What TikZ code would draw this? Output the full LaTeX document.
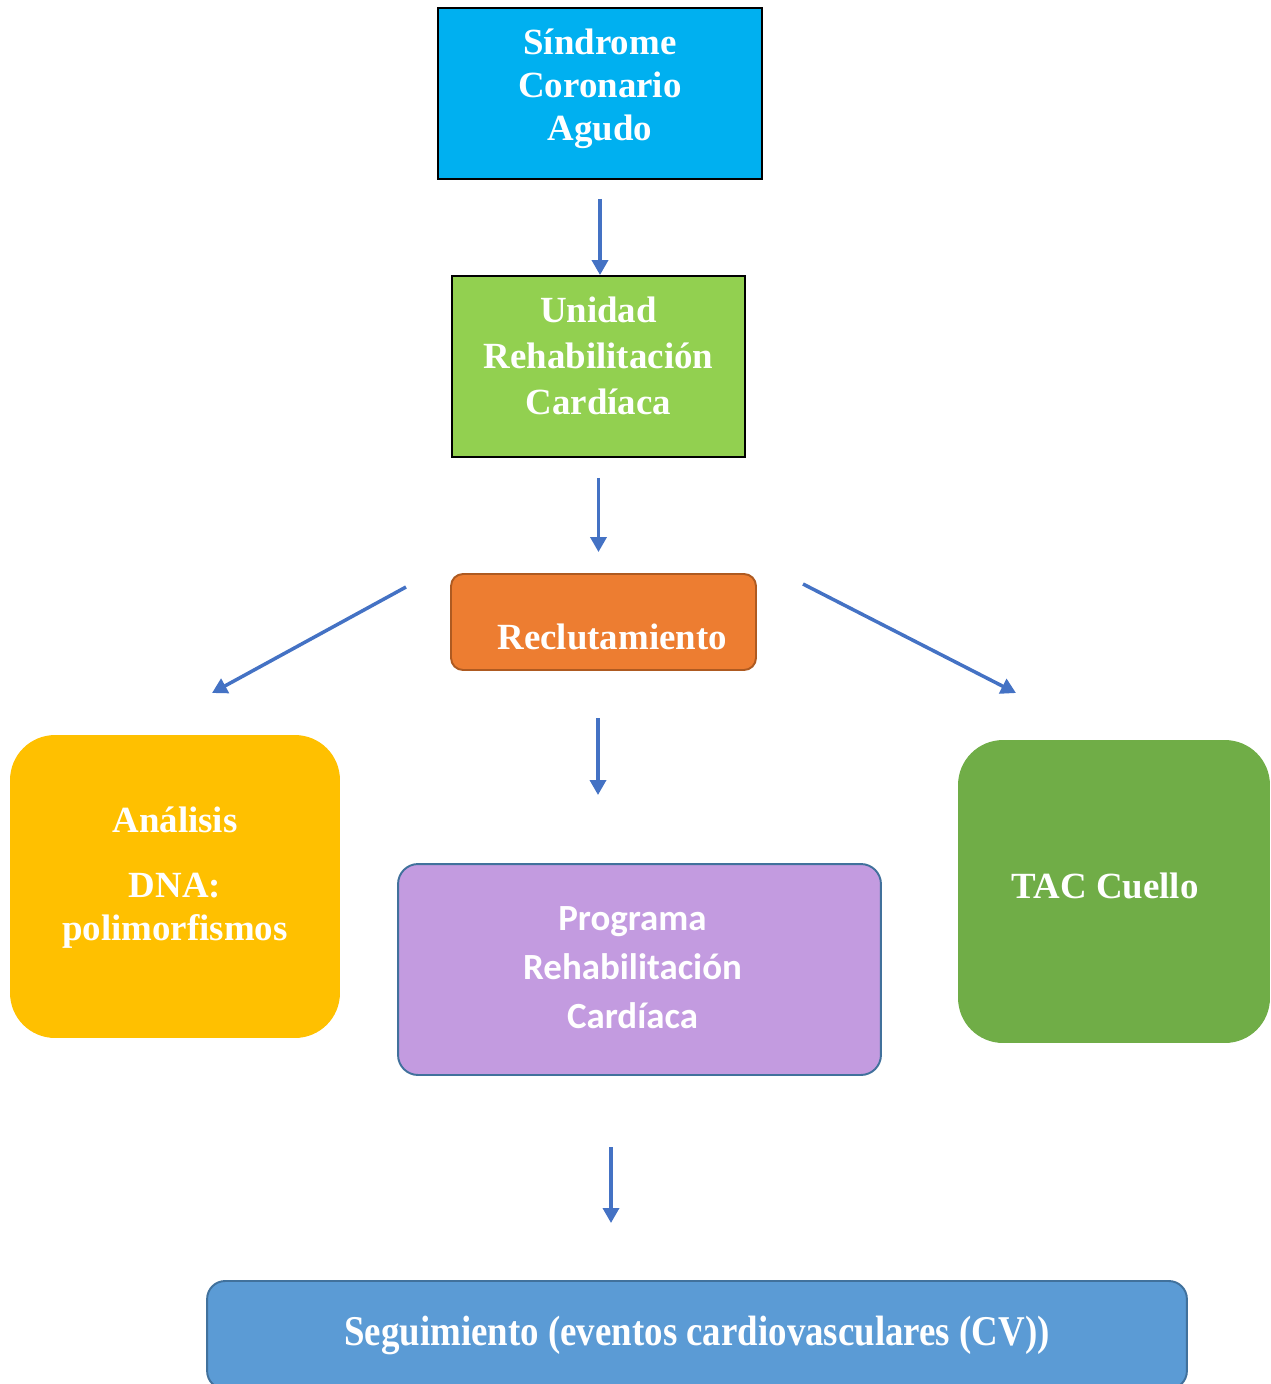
\documentclass[tikz,border=0pt]{standalone}
\usepackage{fontspec}
\setmainfont{Liberation Serif}
\newfontfamily\carlito{Carlito}
\usepackage{tikz}
\usetikzlibrary{arrows.meta}

\definecolor{scablue}{HTML}{00B0F0}
\definecolor{urcgreen}{HTML}{92D050}
\definecolor{reclorange}{HTML}{ED7D31}
\definecolor{reclborder}{HTML}{AE5A21}
\definecolor{dnayellow}{HTML}{FFC000}
\definecolor{proglilac}{HTML}{C39BE0}
\definecolor{tacgreen}{HTML}{70AD47}
\definecolor{segblue}{HTML}{5B9BD5}
\definecolor{edgeblue}{HTML}{41719C}
\definecolor{arrowblue}{HTML}{4472C4}

\begin{document}
\begin{tikzpicture}[
  x=0.02cm, y=-0.02cm,
  box/.style={draw, line width=1.1pt, align=center, inner sep=0pt, text=white,
              font=\fontsize{21}{24.5}\selectfont\bfseries},
  softbox/.style={rounded corners=0.9cm, align=center, inner sep=0pt, text=white,
              font=\fontsize{21}{24.5}\selectfont\bfseries},
  arrow/.style={-{Triangle[length=3mm,width=3.2mm]}, line width=2pt, draw=arrowblue}
]
\useasboundingbox (0,0) rectangle (1271,1384);

\node[box, fill=scablue, minimum width=6.48cm, minimum height=3.42cm, text depth=0.35cm] (sca) at (600,93.5)
  {Síndrome\\Coronario\\Agudo};
\node[box, fill=urcgreen, minimum width=5.86cm, minimum height=3.62cm, text depth=0.45cm,
      font=\fontsize{21}{26.2}\selectfont\bfseries] (urc) at (598.5,366.5)
  {Unidad\\Rehabilitación\\Cardíaca};
\node[box, fill=reclorange, draw=reclborder, rounded corners=0.24cm,
      minimum width=6.1cm, minimum height=1.92cm, text height=1.1cm, text depth=0pt] (recl) at (603.5,622)
  {\hspace*{0.35cm}Reclutamiento};

\node[softbox, fill=dnayellow, minimum width=6.6cm, minimum height=6.06cm, text depth=0.51cm] (dna) at (175,886.5)
  {Análisis\\[0.44cm]DNA:\\polimorfismos};
\node[box, fill=proglilac, draw=edgeblue, rounded corners=0.4cm,
      minimum width=9.66cm, minimum height=4.22cm,
      font=\carlito\bfseries\fontsize{21}{27.9}\selectfont] (prog) at (639.5,969.5)
  {\hspace*{-0.28cm}\begin{tabular}{@{}c@{}}Programa\\Rehabilitación\\Cardíaca\end{tabular}};
\node[softbox, fill=tacgreen, minimum width=6.24cm, minimum height=6.06cm, text depth=0.24cm] (tac) at (1114,891.5)
  {TAC Cuello\hspace*{0.35cm}};

\node[box, fill=segblue, draw=edgeblue, rounded corners=0.36cm,
      minimum width=19.6cm, minimum height=2.16cm] (seg) at (697,1335)
  {\scalebox{1}[1.15]{Seguimiento (eventos cardiovasculares (CV))}};

% loose arrow ends
\coordinate (ls) at (406,587);
\coordinate (le) at (212,693);
\coordinate (rs) at (803,584);
\coordinate (re) at (1016,693);
\coordinate (ms) at (598,718);
\coordinate (me) at (598,795);
\coordinate (bs) at (611,1147);
\coordinate (be) at (611,1223);

\draw[arrow, shorten <=0.38cm] (sca.south) -- (sca.south |- urc.north);
\draw[arrow, shorten <=0.4cm, shorten >=0.42cm] (urc.south) -- (urc.south |- recl.north);
\draw[arrow] (ls) -- (le);
\draw[arrow] (rs) -- (re);
\draw[arrow] (ms) -- (me);
\draw[arrow] (bs) -- (be);
\end{tikzpicture}
\end{document}
